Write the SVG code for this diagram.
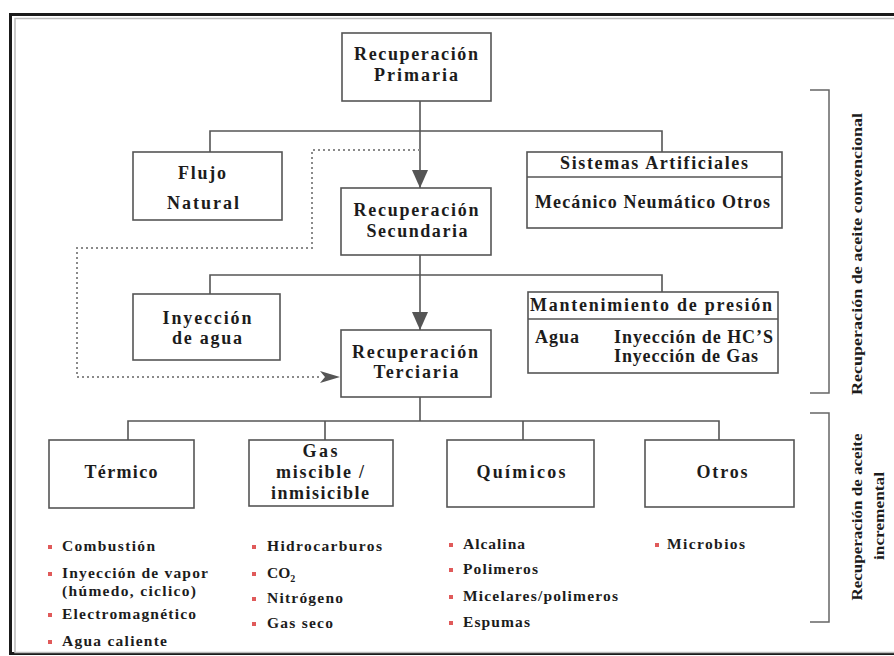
<svg xmlns="http://www.w3.org/2000/svg" width="894" height="656" viewBox="0 0 894 656">
<style>
text{font-family:"Liberation Serif","Times New Roman",serif;font-weight:bold;fill:#1c1c1c}
.h{font-size:18px}
.b{font-size:15.5px}
.r{font-size:14.5px}
.box{fill:#fff;stroke:#555;stroke-width:1.6}
.ln{fill:none;stroke:#555;stroke-width:1.6}
.dot{fill:none;stroke:#8a8a8a;stroke-width:2;stroke-dasharray:2 3}
.bul{fill:#e05a5a}
.br{fill:none;stroke:#666;stroke-width:1.5}
</style>
<defs>
<marker id="arr" markerUnits="userSpaceOnUse" markerWidth="18" markerHeight="18" refX="18" refY="8" orient="auto">
<path d="M0,0 L18,8 L0,16 Z" fill="#555"/>
</marker>
<marker id="arrd" markerUnits="userSpaceOnUse" markerWidth="20" markerHeight="14" refX="20" refY="6" orient="auto">
<path d="M0,0 L20,6 L0,12 L5,6 Z" fill="#555"/>
</marker>
</defs>
<rect width="894" height="656" fill="#fff"/>
<g id="frame">
<rect x="10.5" y="14.5" width="900" height="639" fill="none" stroke="#1a1a1a" stroke-width="3"/>
<rect x="15" y="18.5" width="900" height="634" fill="none" stroke="#bbb" stroke-width="1.5"/>
</g>
<g id="connectors">
<path class="ln" d="M420,101 V131"/>
<path class="ln" d="M210,152 V131 H662 V152"/>
<path class="ln" d="M420,131 V188" marker-end="url(#arr)"/>
<path class="ln" d="M420,255 V275"/>
<path class="ln" d="M210,294 V275 H662 V292"/>
<path class="ln" d="M420,275 V330" marker-end="url(#arr)"/>
<path class="ln" d="M420,397 V421"/>
<path class="ln" d="M128,440 V421 H719 V440"/>
<path class="ln" d="M325,421 V440"/>
<path class="ln" d="M523,421 V440"/>
<path class="dot" d="M420,150 H312 V248 H77 V377 H322"/>
<path d="M320,377 H340" stroke="none" fill="none" marker-end="url(#arrd)"/>
</g>
<g id="primaria">
<rect class="box" x="342" y="33" width="149" height="68"/>
<text class="h" x="416" y="60" text-anchor="middle" textLength="124">Recuperación</text>
<text class="h" x="416" y="81" text-anchor="middle" textLength="84">Primaria</text>
</g>
<g id="flujo">
<rect class="box" x="133" y="152" width="149" height="68"/>
<text class="h" x="202" y="179" text-anchor="middle" textLength="48">Flujo</text>
<text class="h" x="203" y="209" text-anchor="middle" textLength="72">Natural</text>
</g>
<g id="sistemas">
<rect class="box" x="527" y="152" width="255" height="76"/>
<line class="ln" x1="527" y1="177" x2="782" y2="177"/>
<text class="h" x="654" y="169" text-anchor="middle" textLength="188">Sistemas Artificiales</text>
<text class="h" x="535" y="208" textLength="235">Mecánico  Neumático Otros</text>
</g>
<g id="secundaria">
<rect class="box" x="341" y="188" width="150" height="67"/>
<text class="h" x="416" y="216" text-anchor="middle" textLength="125">Recuperación</text>
<text class="h" x="417" y="237" text-anchor="middle" textLength="101">Secundaria</text>
</g>
<g id="inyeccion-agua">
<rect class="box" x="133" y="294" width="147" height="66"/>
<text class="h" x="207" y="324" text-anchor="middle" textLength="89">Inyección</text>
<text class="h" x="207" y="344" text-anchor="middle" textLength="70">de agua</text>
</g>
<g id="mantenimiento">
<rect class="box" x="528" y="292" width="250" height="81"/>
<line class="ln" x1="528" y1="319" x2="778" y2="319"/>
<text class="h" x="530" y="311" textLength="242">Mantenimiento de presión</text>
<text class="h" x="535" y="343" textLength="44">Agua</text>
<text class="h" x="614" y="343" textLength="159">Inyección de HC’S</text>
<text class="h" x="614" y="362" textLength="144">Inyección de Gas</text>
</g>
<g id="terciaria">
<rect class="box" x="341" y="330" width="150" height="67"/>
<text class="h" x="415" y="358" text-anchor="middle" textLength="126">Recuperación</text>
<text class="h" x="416" y="378" text-anchor="middle" textLength="85">Terciaria</text>
</g>
<g id="termico">
<rect class="box" x="49" y="440" width="145" height="68"/>
<text class="h" x="121" y="478" text-anchor="middle" textLength="73">Térmico</text>
</g>
<g id="gas">
<rect class="box" x="249" y="440" width="144" height="66"/>
<text class="h" x="320" y="457" text-anchor="middle" textLength="35">Gas</text>
<text class="h" x="320" y="478" text-anchor="middle" textLength="88">miscible /</text>
<text class="h" x="320" y="499" text-anchor="middle" textLength="98">inmisicible</text>
</g>
<g id="quimicos">
<rect class="box" x="447" y="440" width="147" height="67"/>
<text class="h" x="521" y="478" text-anchor="middle" textLength="89">Químicos</text>
</g>
<g id="otros">
<rect class="box" x="645" y="440" width="149" height="67"/>
<text class="h" x="722" y="478" text-anchor="middle" textLength="51">Otros</text>
</g>
<g id="lista-termico">
<rect class="bul" x="48" y="545" width="4" height="4"/>
<text class="b" x="62" y="551" textLength="93">Combustión</text>
<rect class="bul" x="48" y="572" width="4" height="4"/>
<text class="b" x="62" y="578" textLength="146">Inyección de vapor</text>
<text class="b" x="62" y="596" textLength="134">(húmedo, ciclico)</text>
<rect class="bul" x="48" y="613" width="4" height="4"/>
<text class="b" x="62" y="619" textLength="134">Electromagnético</text>
<rect class="bul" x="48" y="640" width="4" height="4"/>
<text class="b" x="62" y="646" textLength="105">Agua caliente</text>
</g>
<g id="lista-gas">
<rect class="bul" x="252" y="545" width="4" height="4"/>
<text class="b" x="267" y="551" textLength="115">Hidrocarburos</text>
<rect class="bul" x="252" y="572" width="4" height="4"/>
<text class="b" x="267" y="578">CO<tspan font-size="10" dy="4">2</tspan></text>
<rect class="bul" x="252" y="597" width="4" height="4"/>
<text class="b" x="267" y="603" textLength="76">Nitrógeno</text>
<rect class="bul" x="252" y="622" width="4" height="4"/>
<text class="b" x="267" y="628" textLength="66">Gas seco</text>
</g>
<g id="lista-quimicos">
<rect class="bul" x="449" y="543" width="4" height="4"/>
<text class="b" x="463" y="549" textLength="62">Alcalina</text>
<rect class="bul" x="449" y="568" width="4" height="4"/>
<text class="b" x="463" y="574" textLength="75">Polimeros</text>
<rect class="bul" x="449" y="595" width="4" height="4"/>
<text class="b" x="463" y="601" textLength="155">Micelares/polimeros</text>
<rect class="bul" x="449" y="621" width="4" height="4"/>
<text class="b" x="463" y="627" textLength="67">Espumas</text>
</g>
<g id="lista-otros">
<rect class="bul" x="655" y="543" width="4" height="4"/>
<text class="b" x="667" y="549" textLength="78">Microbios</text>
</g>
<g id="bracket-convencional">
<path class="br" d="M810,90 H829 V393 H810"/>
<text class="r" transform="translate(862,254) rotate(-90)" text-anchor="middle" textLength="282" lengthAdjust="spacingAndGlyphs">Recuperación de aceite convencional</text>
</g>
<g id="bracket-incremental">
<path class="br" d="M810,413 H829 V622 H810"/>
<text class="r" transform="translate(862,517) rotate(-90)" text-anchor="middle" textLength="167" lengthAdjust="spacingAndGlyphs">Recuperación de aceite</text>
<text class="r" transform="translate(884,516) rotate(-90)" text-anchor="middle" textLength="88" lengthAdjust="spacingAndGlyphs">incremental</text>
</g>
</svg>
